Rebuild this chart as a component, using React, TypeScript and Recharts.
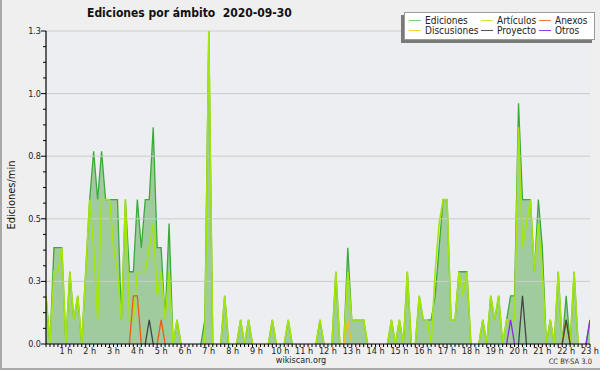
import { ComposedChart, Area, Line, XAxis, YAxis, CartesianGrid, ReferenceLine } from 'recharts'

// 10-minute slots, 00:10 .. 23:00 (values in edits per minute)
const slots = Array.from({ length: 138 }, (_, i) => (i + 1) / 6)

const ediciones = [
  0.2, 0, 0.4, 0.4, 0.4, 0,
  0.3, 0.1, 0.2, 0, 0.3, 0.6,
  0.8, 0.6, 0.8, 0.6, 0.6, 0.6,
  0.6, 0.1, 0.6, 0.3, 0.3, 0.6,
  0.4, 0.6, 0.6, 0.9, 0.4, 0.4,
  0.1, 0.5, 0, 0.1, 0, 0,
  0, 0, 0, 0, 0.1, 1.3,
  0, 0, 0, 0.2, 0, 0,
  0, 0.1, 0, 0.1, 0, 0,
  0, 0, 0, 0.1, 0, 0,
  0, 0.1, 0, 0, 0, 0,
  0, 0, 0, 0.1, 0, 0,
  0, 0.3, 0, 0, 0.4, 0.1,
  0.1, 0.1, 0.1, 0, 0, 0,
  0, 0, 0, 0.1, 0, 0.1,
  0, 0.3, 0, 0, 0.2, 0.1,
  0.1, 0.1, 0.2, 0.4, 0.6, 0.6,
  0.1, 0.1, 0.3, 0.3, 0.3, 0,
  0, 0, 0.1, 0, 0.2, 0.1,
  0.2, 0, 0.1, 0.2, 0.2, 1.0,
  0.6, 0.6, 0.6, 0.3, 0.6, 0.4,
  0, 0.1, 0, 0.3, 0, 0.2,
  0, 0.3, 0, 0, 0, 0.1,
]

const articulos = [
  0.2, 0, 0.3, 0.3, 0.4, 0,
  0.3, 0.1, 0.2, 0, 0.3, 0.6,
  0.4, 0.1, 0.6, 0.6, 0.6, 0.4,
  0.3, 0.1, 0.6, 0.1, 0.1, 0.3,
  0.3, 0.3, 0.4, 0.5, 0.2, 0.3,
  0.1, 0.3, 0, 0.1, 0, 0,
  0, 0, 0, 0, 0, 1.3,
  0, 0, 0, 0.2, 0, 0,
  0, 0.1, 0, 0.1, 0, 0,
  0, 0, 0, 0.1, 0, 0,
  0, 0.1, 0, 0, 0, 0,
  0, 0, 0, 0.1, 0, 0,
  0, 0.3, 0, 0, 0.3, 0.1,
  0.1, 0.1, 0.1, 0, 0, 0,
  0, 0, 0, 0.1, 0, 0.1,
  0, 0.3, 0, 0, 0.2, 0.1,
  0.1, 0, 0.3, 0.5, 0.6, 0.6,
  0.1, 0.1, 0.3, 0.2, 0.3, 0,
  0, 0, 0.1, 0, 0.2, 0.1,
  0.2, 0, 0.1, 0.1, 0.1, 0.9,
  0.4, 0.5, 0.6, 0.3, 0.5, 0.3,
  0, 0.1, 0, 0.3, 0, 0.1,
  0, 0.3, 0, 0, 0, 0,
]

const discusiones = [
  0, 0, 0, 0, 0, 0,  0, 0, 0, 0, 0, 0,  0, 0, 0, 0, 0, 0,  0, 0, 0, 0, 0, 0,
  0, 0, 0, 0, 0, 0,  0, 0, 0, 0, 0, 0,  0, 0, 0, 0, 0, 0,  0, 0, 0, 0, 0, 0,
  0, 0, 0, 0, 0, 0,  0, 0, 0, 0, 0, 0,  0, 0, 0, 0, 0, 0,  0, 0, 0, 0, 0, 0,
  0, 0, 0, 0, 0.1, 0,  0, 0, 0, 0, 0, 0,  0, 0, 0, 0, 0, 0,  0, 0, 0, 0, 0, 0,
  0, 0, 0, 0, 0, 0,  0, 0, 0, 0, 0, 0,  0, 0, 0, 0, 0, 0,  0, 0, 0, 0, 0, 0,
  0, 0, 0, 0, 0, 0,  0, 0, 0, 0, 0, 0,  0, 0, 0, 0, 0, 0,
]

const anexos = [
  0, 0, 0, 0, 0, 0,  0, 0, 0, 0, 0, 0,  0, 0, 0, 0, 0, 0,  0, 0, 0, 0, 0.2, 0.2,
  0, 0, 0, 0, 0, 0.1,  0, 0, 0, 0, 0, 0,  0, 0, 0, 0, 0, 0,  0, 0, 0, 0, 0, 0,
  0, 0, 0, 0, 0, 0,  0, 0, 0, 0, 0, 0,  0, 0, 0, 0, 0, 0,  0, 0, 0, 0, 0, 0,
  0, 0, 0, 0, 0, 0,  0, 0, 0, 0, 0, 0,  0, 0, 0, 0, 0, 0,  0, 0, 0, 0, 0, 0,
  0, 0, 0, 0, 0, 0,  0, 0, 0, 0, 0, 0,  0, 0, 0, 0, 0, 0,  0, 0, 0, 0, 0, 0,
  0, 0, 0, 0, 0, 0,  0, 0, 0, 0, 0, 0.1,  0, 0, 0, 0, 0, 0,
]

const proyecto = [
  0, 0, 0, 0, 0, 0,  0, 0, 0, 0, 0, 0,  0, 0, 0, 0, 0, 0,  0, 0, 0, 0, 0, 0,
  0, 0, 0.1, 0, 0, 0,  0, 0, 0, 0, 0, 0,  0, 0, 0, 0, 0, 0,  0, 0, 0, 0, 0, 0,
  0, 0, 0, 0, 0, 0,  0, 0, 0, 0, 0, 0,  0, 0, 0, 0, 0, 0,  0, 0, 0, 0, 0, 0,
  0, 0, 0, 0, 0, 0,  0, 0, 0, 0, 0, 0,  0, 0, 0, 0, 0, 0,  0, 0, 0, 0, 0, 0,
  0, 0, 0, 0, 0, 0,  0, 0, 0, 0, 0, 0,  0, 0, 0, 0, 0, 0,  0, 0, 0, 0, 0, 0,
  0.2, 0, 0, 0, 0, 0,  0, 0, 0, 0, 0, 0.1,  0, 0, 0, 0, 0, 0,
]

const otros = [
  0, 0, 0, 0, 0, 0,  0, 0, 0, 0, 0, 0,  0, 0, 0, 0, 0, 0,  0, 0, 0, 0, 0, 0,
  0, 0, 0, 0, 0, 0,  0, 0, 0, 0, 0, 0,  0, 0, 0, 0, 0, 0,  0, 0, 0, 0, 0, 0,
  0, 0, 0, 0, 0, 0,  0, 0, 0, 0, 0, 0,  0, 0, 0, 0, 0, 0,  0, 0, 0, 0, 0, 0,
  0, 0, 0, 0, 0, 0,  0, 0, 0, 0, 0, 0,  0, 0, 0, 0, 0, 0,  0, 0, 0, 0, 0, 0,
  0, 0, 0, 0, 0, 0,  0, 0, 0, 0, 0, 0,  0, 0, 0, 0, 0, 0,  0, 0, 0, 0.1, 0, 0,
  0, 0, 0, 0, 0, 0,  0, 0, 0, 0, 0, 0,  0, 0, 0, 0, 0, 0.1,
]

const yMajor = [0, 0.26, 0.52, 0.78, 1.04, 1.3]
const yTicks = Array.from({ length: 21 }, (_, i) => i * 0.065)

const legendItems = [
  { name: 'Ediciones', color: '#80cc80', col: 0, row: 0 },
  { name: 'Artículos', color: '#c8ec40', col: 1, row: 0 },
  { name: 'Anexos', color: '#f07840', col: 2, row: 0 },
  { name: 'Discusiones', color: '#f8d040', col: 0, row: 1 },
  { name: 'Proyecto', color: '#555555', col: 1, row: 1 },
  { name: 'Otros', color: '#9040e8', col: 2, row: 1 },
]

const FONT = "'DejaVu Sans Condensed', 'DejaVu Sans', sans-serif"

// hide runs of zeros so they don't paint over the axis
const vis = (arr: number[], i: number) =>
  arr[i] || arr[i - 1] || arr[i + 1] ? arr[i] : null

const data = slots.map((t, i) => ({
  t,
  ed: vis(ediciones, i),
  ar: vis(articulos, i),
  di: vis(discusiones, i),
  an: vis(anexos, i),
  pr: vis(proyecto, i),
  ot: vis(otros, i),
}))

const XTick = (props: any) => {
  const { x, y, payload } = props
  const v = payload.value
  const hour = Math.abs(v - Math.round(v)) < 1e-6
  return (
    <g>
      <line x1={x} x2={x} y1={y} y2={y + 3} stroke="#000" />
      {hour && (
        <text x={x} y={y + 10} textAnchor="middle" fontSize={9} fill="#222" fontFamily={FONT}>
          {Math.round(v)} h
        </text>
      )}
    </g>
  )
}

const YTick = (props: any) => {
  const { x, y, payload } = props
  const v = payload.value
  const major = yMajor.some(m => Math.abs(m - v) < 1e-6)
  return (
    <g>
      <line x1={x - (major ? 5 : 3)} x2={x} y1={y} y2={y} stroke="#000" />
      {major && (
        <text x={x - 5} y={y + 3} textAnchor="end" fontSize={9} fill="#222" fontFamily={FONT}>
          {v.toFixed(1)}
        </text>
      )}
    </g>
  )
}

export default function App() {
  return (
    <div style={{ position: 'relative', width: 600, height: 370, background: '#efefef', boxSizing: 'border-box', borderLeft: '2px solid #a8a8a8', borderBottom: '2px solid #a8a8a8' }}>
      <style>{'body{margin:0}'}</style>
      <div style={{ position: 'absolute', left: -2, top: 0 }}>
        <ComposedChart width={600} height={370} data={data} margin={{ top: 31, right: 10, bottom: 0, left: 0 }}>
          <CartesianGrid horizontal={false} vertical={false} fill="#edeef1" />
          {yMajor.slice(1).map(v => (
            <ReferenceLine key={v} y={v} stroke="#cccccc" strokeWidth={1} />
          ))}
          <Area
            type="linear"
            dataKey="ed"
            stroke="#3aaa3a"
            strokeWidth={1.3}
            fill="#9fcb9f"
            fillOpacity={1}
            isAnimationActive={false}
          />
          <Line type="linear" dataKey="ar" stroke="#a4e60c" strokeWidth={1.6} dot={false} isAnimationActive={false} />
          <Line type="linear" dataKey="di" stroke="#f0c020" strokeWidth={1.3} dot={false} isAnimationActive={false} />
          <Line type="linear" dataKey="an" stroke="#f05a10" strokeWidth={1.3} dot={false} isAnimationActive={false} />
          <Line type="linear" dataKey="pr" stroke="#444444" strokeWidth={1.3} dot={false} isAnimationActive={false} />
          <Line type="linear" dataKey="ot" stroke="#8a2be2" strokeWidth={1.3} dot={false} isAnimationActive={false} />
          <XAxis
            dataKey="t"
            type="number"
            domain={[1 / 6, 23]}
            ticks={slots}
            interval={0}
            height={26}
            tickSize={0}
            tickMargin={0}
            tick={<XTick />}
            axisLine={{ stroke: '#000', strokeWidth: 1.2 }}
            allowDataOverflow
          />
          <YAxis
            type="number"
            domain={[0, 1.3]}
            ticks={yTicks}
            interval={0}
            width={46}
            tickSize={0}
            tickMargin={0}
            tick={<YTick />}
            axisLine={{ stroke: '#000', strokeWidth: 1.2 }}
            allowDataOverflow
          />
        </ComposedChart>
      </div>

      <div style={{ position: 'absolute', left: 85, top: 6, fontFamily: FONT, fontWeight: 'bold', fontSize: 12, color: '#111', whiteSpace: 'pre' }}>
        {'Ediciones por ámbito  2020-09-30'}
      </div>

      <div style={{ position: 'absolute', left: 9, top: 195, transform: 'translate(-50%, -50%) rotate(-90deg)', fontFamily: FONT, fontSize: 11, color: '#111', whiteSpace: 'nowrap' }}>
        Ediciones/min
      </div>

      <div style={{ position: 'absolute', left: 402, top: 12, width: 189, height: 26, background: '#fff', border: '1px solid #9a9a9a', boxShadow: '-3px 3px 0 #7a7a7a' }}>
        {legendItems.map(it => (
          <div key={it.name} style={{ position: 'absolute', left: [4, 76, 134][it.col], top: it.row === 0 ? 1 : 11, display: 'flex', alignItems: 'center', height: 12 }}>
            <div style={{ width: 12, height: 1, background: it.color }} />
            <span style={{ marginLeft: 4, fontFamily: FONT, fontSize: 10, color: '#222' }}>{it.name}</span>
          </div>
        ))}
      </div>

      <div style={{ position: 'absolute', left: 0, width: 598, top: 355, textAlign: 'center', fontFamily: FONT, fontSize: 9, color: '#222' }}>
        wikiscan.org
      </div>
      <div style={{ position: 'absolute', right: 8, top: 357, fontFamily: FONT, fontSize: 7.5, color: '#333' }}>
        CC BY-SA 3.0
      </div>
    </div>
  )
}
